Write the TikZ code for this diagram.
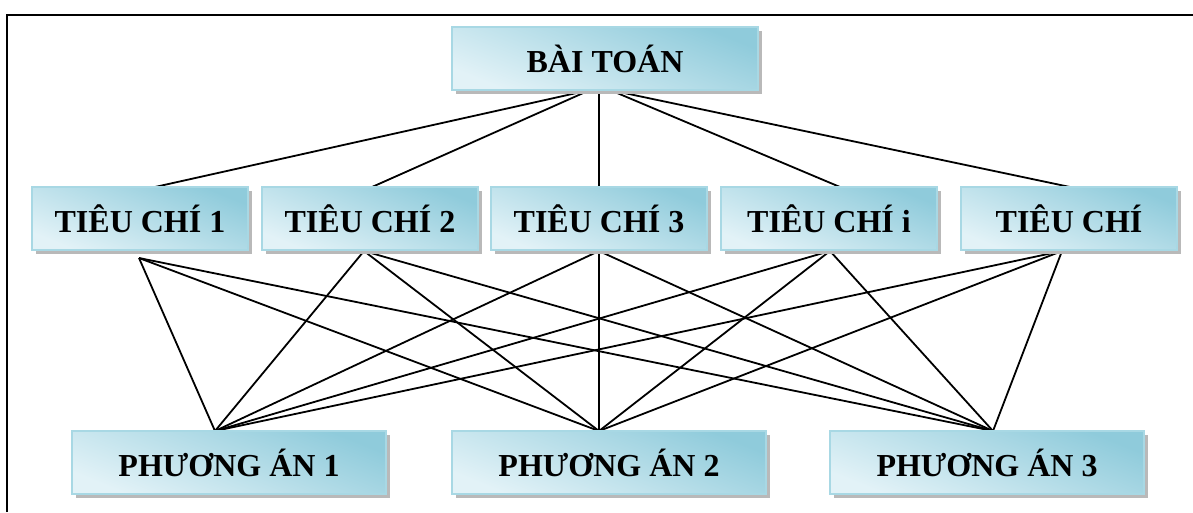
\documentclass[tikz,border=0pt]{standalone}
\usepackage{fontspec}
\setmainfont{Liberation Serif}
\usetikzlibrary{shadows}
\definecolor{cDark}{HTML}{8FCBDB}
\definecolor{cLight}{HTML}{E2F2F7}
\definecolor{cEdge}{HTML}{A8D8E4}
\begin{document}
\begin{tikzpicture}[x=1pt,y=-1pt,
  box/.style={minimum width=#1, minimum height=63pt, inner sep=0pt,
    top color=cDark, bottom color=cLight, shading angle=-22,
    draw=cEdge, line width=1.2pt,
    drop shadow={shadow xshift=3.5pt, shadow yshift=-3.5pt, fill=gray!55, opacity=1},
    font=\fontsize{32}{36}\selectfont\bfseries},
  link/.style={line width=1.8pt, black}]
\useasboundingbox (0,0) rectangle (1193,512);
% frame
\draw[line width=2.2pt] (7,512) -- (7,15) -- (1193,15);
% attachment points
\coordinate (tL) at (590,90);
\coordinate (tM) at (599,90);
\coordinate (tR) at (610,90);
\coordinate (t1) at (155,187);
\coordinate (t2) at (372,187);
\coordinate (t3) at (599,187);
\coordinate (t4) at (840,187);
\coordinate (t5) at (1070,187);
\coordinate (b1) at (139,258);
\coordinate (b2) at (364,251);
\coordinate (b3) at (599,251);
\coordinate (b4) at (830,251);
\coordinate (b5) at (1062,251);
\coordinate (p1) at (215,431);
\coordinate (p2) at (599,431);
\coordinate (p3) at (993,431);
% links
\draw[link] (tL) -- (t1);
\draw[link] (tL) -- (t2);
\draw[link] (tM) -- (t3);
\draw[link] (tR) -- (t4);
\draw[link] (tR) -- (t5);
\foreach \b in {b1,b2,b3,b4,b5}{
  \foreach \p in {p1,p2,p3}{
    \draw[link] (\b) -- (\p);
  }
}
% boxes
\node[box=306pt] (top) at (605,58.5) {BÀI TOÁN};
\node[box=216pt] (tc1) at (140,218.5) {TIÊU CHÍ 1};
\node[box=216pt] (tc2) at (370,218.5) {TIÊU CHÍ 2};
\node[box=216pt] (tc3) at (599,218.5) {TIÊU CHÍ 3};
\node[box=216pt] (tc4) at (829,218.5) {TIÊU CHÍ i};
\node[box=216pt] (tc5) at (1069,218.5) {TIÊU CHÍ};
\node[box=314pt] (pa1) at (229,462.5) {PHƯƠNG ÁN 1};
\node[box=314pt] (pa2) at (609,462.5) {PHƯƠNG ÁN 2};
\node[box=314pt] (pa3) at (987,462.5) {PHƯƠNG ÁN 3};
\end{tikzpicture}
\end{document}
